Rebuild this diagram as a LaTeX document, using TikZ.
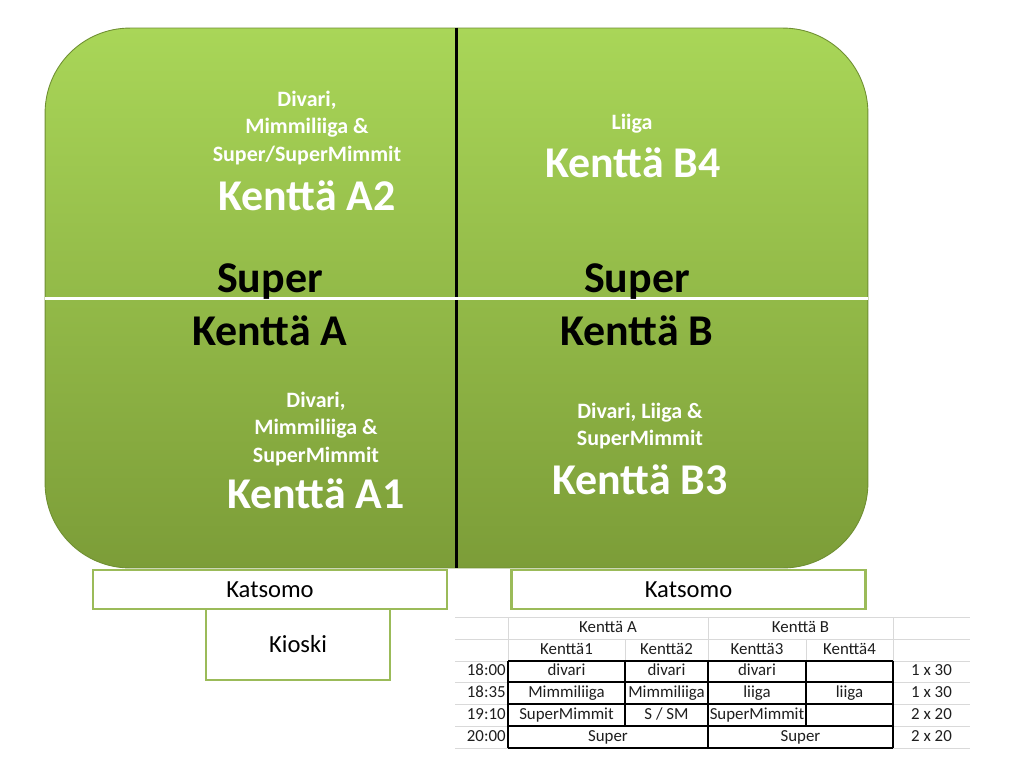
\documentclass[tikz,border=0pt]{standalone}
\usepackage{fontspec}
\setmainfont{Carlito}
\usepackage{tikz}
\usetikzlibrary{positioning}
\definecolor{fieldTop}{HTML}{A9D658}
\definecolor{fieldBottom}{HTML}{7C9D38}
\definecolor{fieldEdge}{HTML}{6F8F32}
\definecolor{standGreen}{HTML}{9BBB59}
\definecolor{gridGray}{HTML}{D9D9D9}
\definecolor{tableInk}{HTML}{1E1E1E}
\tikzset{
  fieldBox/.style={
    rectangle,
    rounded corners=1.7cm,
    top color=fieldTop,
    bottom color=fieldBottom,
    draw=fieldEdge,
    line width=0.5pt,
    minimum width=16.46cm,
    minimum height=10.8cm,
    inner sep=0pt
  },
  standBox/.style={
    rectangle,
    draw=standGreen,
    fill=white,
    line width=1.6pt,
    minimum width=7.08cm,
    minimum height=0.78cm,
    inner sep=0pt,
    font=\fontsize{14}{16}\selectfont
  },
  kioskBox/.style={
    rectangle,
    draw=standGreen,
    fill=white,
    line width=1.6pt,
    minimum width=3.68cm,
    minimum height=1.42cm,
    inner sep=0pt,
    font=\fontsize{14}{16}\selectfont
  },
  fieldInfo/.style={
    align=center,
    text=white,
    inner sep=0pt,
    font=\bfseries\fontsize{12.5}{15.6}\selectfont
  },
  fieldTitle/.style={
    anchor=base,
    text=white,
    inner sep=0pt,
    font=\bfseries\fontsize{25}{30}\selectfont
  },
  sectorTitle/.style={
    anchor=base,
    text=black,
    inner sep=0pt,
    font=\bfseries\fontsize{25}{30}\selectfont
  },
  divider/.style={line width=1.7pt, draw=black},
  midline/.style={line width=1.7pt, draw=white},
  gridLine/.style={line width=0.5pt, draw=gridGray},
  cellBorder/.style={line width=0.8pt, draw=black},
  cellText/.style={
    inner sep=0pt,
    text height=7pt,
    text depth=2pt,
    text=tableInk,
    font=\fontsize{9.6}{11}\selectfont
  }
}

\begin{document}
\begin{tikzpicture}[x=0.02cm,y=-0.02cm]
  \useasboundingbox (0,0) rectangle (1024,768);

  % playing field
  \node[fieldBox] (field) at (456.5,298) {};
  \draw[divider] (field.north) -- (field.south);
  \draw[midline] (field.west) -- (field.east);

  \node[fieldInfo] (a2Info) at (307,128) {Divari,\\Mimmiliiga \&\\Super/SuperMimmit};
  \node[fieldTitle] (a2Title) at (307,210) {Kenttä A2};
  \node[fieldInfo] (b4Info) at (632,124) {Liiga};
  \node[fieldTitle] (b4Title) at (633,177) {Kenttä B4};
  \node[sectorTitle] (superA) at (270,292) {Super};
  \node[sectorTitle] (sectorA) at (270,345) {Kenttä A};
  \node[sectorTitle] (superB) at (637,292) {Super};
  \node[sectorTitle] (sectorB) at (637,345) {Kenttä B};
  \node[fieldInfo] (a1Info) at (316,429) {Divari,\\Mimmiliiga \&\\SuperMimmit};
  \node[fieldTitle] (a1Title) at (316,508) {Kenttä A1};
  \node[fieldInfo] (b3Info) at (640,426) {Divari, Liiga \&\\SuperMimmit};
  \node[fieldTitle] (b3Title) at (640,494) {Kenttä B3};

  % stands and kiosk
  \node[kioskBox] (kiosk) at (298,644.5) {Kioski};
  \node[standBox] (standA) at (270,589.5) {Katsomo};
  \node[standBox] (standB) at (688.5,589.5) {Katsomo};

  % schedule table
  \foreach \y in {617,639,661,682,704,726,748}
    \draw[gridLine] (455,\y) -- (970,\y);
  \foreach \x in {508,708,893}
    \draw[gridLine] (\x,617) -- (\x,661);
  \foreach \x in {625,806}
    \draw[gridLine] (\x,639) -- (\x,661);
  \foreach \y in {661,682,704,726,748}
    \draw[cellBorder] (508,\y) -- (893,\y);
  \foreach \x in {508,708,893}
    \draw[cellBorder] (\x,661) -- (\x,748);
  \foreach \x in {625,806}
    \draw[cellBorder] (\x,661) -- (\x,726);

  \node[cellText] (headA) at (608,628) {Kenttä A};
  \node[cellText] (headB) at (800.5,628) {Kenttä B};
  \node[cellText] (head1) at (566.5,650) {Kenttä1};
  \node[cellText] (head2) at (666.5,650) {Kenttä2};
  \node[cellText] (head3) at (757,650) {Kenttä3};
  \node[cellText] (head4) at (849.5,650) {Kenttä4};

  \node[cellText,anchor=east] (time1) at (506,671.5) {18:00};
  \node[cellText,anchor=east] (time2) at (506,693) {18:35};
  \node[cellText,anchor=east] (time3) at (506,715) {19:10};
  \node[cellText,anchor=east] (time4) at (506,737) {20:00};

  \node[cellText] (r1c1) at (566.5,671.5) {divari};
  \node[cellText] (r1c2) at (666.5,671.5) {divari};
  \node[cellText] (r1c3) at (757,671.5) {divari};
  \node[cellText] (r1len) at (931.5,671.5) {1 x 30};
  \node[cellText] (r2c1) at (566.5,693) {Mimmiliiga};
  \node[cellText] (r2c2) at (666.5,693) {Mimmiliiga};
  \node[cellText] (r2c3) at (757,693) {liiga};
  \node[cellText] (r2c4) at (849.5,693) {liiga};
  \node[cellText] (r2len) at (931.5,693) {1 x 30};
  \node[cellText] (r3c1) at (566.5,715) {SuperMimmit};
  \node[cellText] (r3c2) at (666.5,715) {S / SM};
  \node[cellText] (r3c3) at (757,715) {SuperMimmit};
  \node[cellText] (r3len) at (931.5,715) {2 x 20};
  \node[cellText] (r4a) at (608,737) {Super};
  \node[cellText] (r4b) at (800.5,737) {Super};
  \node[cellText] (r4len) at (931.5,737) {2 x 20};
\end{tikzpicture}
\end{document}
